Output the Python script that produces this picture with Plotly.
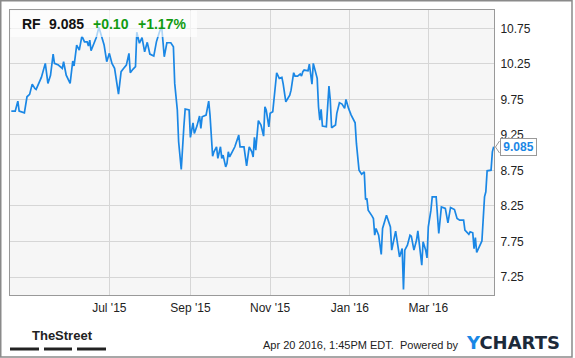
import plotly.graph_objects as go

ticker = "RF"
last_price = "9.085"
change = "+0.10"
change_pct = "+1.17%"
footer_text = "Apr 20 2016, 1:45PM EDT.  Powered by"

dates = [
    "2015-04-17", "2015-04-20", "2015-04-22", "2015-04-23", "2015-04-27", "2015-04-29",
    "2015-05-01", "2015-05-03", "2015-05-05", "2015-05-06", "2015-05-10", "2015-05-13",
    "2015-05-15", "2015-05-17", "2015-05-19", "2015-05-20", "2015-05-23", "2015-05-26",
    "2015-05-27", "2015-05-29", "2015-06-01", "2015-06-03", "2015-06-04", "2015-06-06",
    "2015-06-08", "2015-06-10", "2015-06-12", "2015-06-14", "2015-06-15", "2015-06-16",
    "2015-06-17", "2015-06-19", "2015-06-21", "2015-06-23", "2015-06-25", "2015-06-27",
    "2015-06-29", "2015-07-01", "2015-07-03", "2015-07-05", "2015-07-08", "2015-07-10",
    "2015-07-12", "2015-07-14", "2015-07-16", "2015-07-17", "2015-07-19", "2015-07-21",
    "2015-07-22", "2015-07-24", "2015-07-26", "2015-07-28", "2015-07-30", "2015-08-01",
    "2015-08-04", "2015-08-06", "2015-08-08", "2015-08-10", "2015-08-12", "2015-08-14",
    "2015-08-17", "2015-08-19", "2015-08-20", "2015-08-22", "2015-08-23", "2015-08-25",
    "2015-08-27", "2015-08-28", "2015-08-31", "2015-09-01", "2015-09-03", "2015-09-04",
    "2015-09-06", "2015-09-08", "2015-09-09", "2015-09-10", "2015-09-13", "2015-09-15",
    "2015-09-16", "2015-09-18", "2015-09-19", "2015-09-21", "2015-09-22", "2015-09-24",
    "2015-09-25", "2015-09-26", "2015-09-28", "2015-09-29", "2015-09-30", "2015-10-01",
    "2015-10-03", "2015-10-05", "2015-10-08", "2015-10-09", "2015-10-12", "2015-10-14",
    "2015-10-16", "2015-10-18", "2015-10-19", "2015-10-20", "2015-10-21", "2015-10-23",
    "2015-10-25", "2015-10-27", "2015-10-28", "2015-10-29", "2015-10-31", "2015-11-01",
    "2015-11-03", "2015-11-04", "2015-11-06", "2015-11-08", "2015-11-10", "2015-11-11",
    "2015-11-13", "2015-11-16", "2015-11-17", "2015-11-19", "2015-11-20", "2015-11-22",
    "2015-11-24", "2015-11-25", "2015-11-26", "2015-11-27", "2015-11-30", "2015-12-01",
    "2015-12-03", "2015-12-04", "2015-12-07", "2015-12-08", "2015-12-09", "2015-12-10",
    "2015-12-11", "2015-12-14", "2015-12-15", "2015-12-16", "2015-12-17", "2015-12-18",
    "2015-12-21", "2015-12-22", "2015-12-24", "2015-12-26", "2015-12-28", "2015-12-29",
    "2015-12-31", "2016-01-02", "2016-01-05", "2016-01-06", "2016-01-08", "2016-01-10",
    "2016-01-12", "2016-01-13", "2016-01-14", "2016-01-15", "2016-01-18", "2016-01-19",
    "2016-01-20", "2016-01-21", "2016-01-23", "2016-01-25", "2016-01-26", "2016-01-29",
    "2016-02-01", "2016-02-02", "2016-02-05", "2016-02-07", "2016-02-08", "2016-02-10",
    "2016-02-11", "2016-02-12", "2016-02-14", "2016-02-16", "2016-02-17", "2016-02-19",
    "2016-02-21", "2016-02-22", "2016-02-24", "2016-02-25", "2016-02-26", "2016-02-28",
    "2016-02-29", "2016-03-01", "2016-03-03", "2016-03-04", "2016-03-07", "2016-03-08",
    "2016-03-09", "2016-03-11", "2016-03-14", "2016-03-16", "2016-03-18", "2016-03-21",
    "2016-03-23", "2016-03-25", "2016-03-28", "2016-03-29", "2016-03-30", "2016-04-01",
    "2016-04-02", "2016-04-04", "2016-04-05", "2016-04-06", "2016-04-07", "2016-04-09",
    "2016-04-11", "2016-04-13", "2016-04-14", "2016-04-15", "2016-04-18", "2016-04-19",
    "2016-04-20",
]

prices = [
    9.585, 9.585, 9.726, 9.585, 9.56, 9.787,
    9.82, 9.965, 9.905, 9.89, 10.06, 10.257,
    9.975, 10.09, 10.388, 10.257, 10.233, 10.187,
    10.28, 10.09, 9.975, 10.29, 10.22, 10.515,
    10.444, 10.64, 10.56, 10.56, 10.5, 10.585,
    10.435, 10.515, 10.62, 10.764, 10.63, 10.515,
    10.28, 10.398, 10.257, 10.187, 9.825, 10.14,
    10.187, 10.233, 10.398, 10.125, 10.173, 10.21,
    10.694, 10.54, 10.62, 10.42, 10.553, 10.388,
    10.36, 10.56, 10.68, 10.782, 10.35, 10.547,
    10.547, 10.49, 9.975, 9.6, 9.153, 8.764,
    9.364, 9.614, 9.6, 9.215, 9.42, 9.27,
    9.374, 9.515, 9.342, 9.505, 9.529, 9.726,
    9.529, 8.95, 9.012, 9.083, 8.919, 9.083,
    8.919, 8.965, 8.8, 8.85, 9.012, 8.94,
    9.012, 9.083, 9.247, 9.083, 9.083, 8.815,
    9.083, 9.012, 8.94, 9.215, 9.036, 9.45,
    9.39, 9.233, 9.646, 9.6, 9.364, 9.553,
    9.575, 9.74, 10.125, 10.046, 10.06, 9.965,
    9.716, 9.81, 9.88, 10.125, 10.078, 10.078,
    10.106, 10.078, 10.14, 10.163, 10.153, 10.247,
    9.965, 10.257, 10.046, 9.646, 9.458, 9.609,
    9.374, 9.364, 9.74, 9.937, 9.74, 9.35,
    9.39, 9.553, 9.702, 9.684, 9.623, 9.75,
    9.623, 9.529, 9.42, 9.13, 8.754, 8.698,
    8.73, 8.34, 8.356, 8.191, 8.107, 8.074,
    7.839, 7.933, 7.839, 7.567, 7.933, 8.12,
    7.956, 7.628, 7.895, 7.674, 7.533, 7.651,
    7.074, 7.628, 7.698, 7.839, 7.825, 7.628,
    7.77, 7.9, 7.58, 7.416, 7.745, 7.628,
    7.519, 7.956, 8.191, 8.378, 8.378, 8.097,
    7.863, 8.237, 8.215, 8.012, 8.229, 8.2,
    8.074, 8.05, 8.05, 7.91, 7.886, 7.85,
    7.886, 7.872, 7.65, 7.806, 7.595, 7.674,
    7.758, 8.378, 8.449, 8.745, 8.754, 9.012,
    9.085,
]

y_ticks = [7.25, 7.75, 8.25, 8.75, 9.25, 9.75, 10.25, 10.75]
x_tick_dates = ["2015-07-01", "2015-09-01", "2015-11-01", "2016-01-01", "2016-03-01"]
x_tick_labels = ["Jul '15", "Sep '15", "Nov '15", "Jan '16", "Mar '16"]

W, H = 575, 358
L, R, T, B = 10, 494, 10, 295
PW, PH = R - L, B - T


def px(x):
    return (x - L) / PW


def py(y):
    return (B - y) / PH


FONT = "Liberation Sans, Arial, sans-serif"
BLUE = "#1a87e5"
GREEN = "#119b11"

fig = go.Figure()
fig.add_trace(go.Scatter(
    x=dates, y=prices, mode="lines",
    line=dict(color=BLUE, width=1.7),
    hoverinfo="skip", showlegend=False,
))

shapes = [
    # outer frame
    dict(type="rect", xref="paper", yref="paper",
         x0=px(0.75), x1=px(572), y0=py(357), y1=py(0.75),
         line=dict(color="#8a8a8a", width=1.5), fillcolor="rgba(0,0,0,0)", layer="above"),
    # title backdrop
    dict(type="rect", xref="paper", yref="paper",
         x0=px(10.5), x1=px(197), y0=py(37), y1=py(10.5),
         line=dict(width=0), fillcolor="rgba(255,255,255,0.65)", layer="above"),
    # pointer for last value
    dict(type="path", xref="paper", yref="paper",
         path=f"M {px(499.5)},{py(141)} L {px(495.5)},{py(147)} L {px(499.5)},{py(153)}",
         line=dict(color="#999999", width=1), fillcolor="white", layer="above"),
]

# TheStreet bars
for x0, x1 in [(10, 39), (44, 72), (77, 106)]:
    shapes.append(dict(type="rect", xref="paper", yref="paper",
                       x0=px(x0), x1=px(x1), y0=py(350.5), y1=py(347.5),
                       line=dict(width=0), fillcolor="#222222", layer="above"))

annotations = []


def title_part(text, xleft, color):
    annotations.append(dict(
        text=f"<b>{text}</b>", xref="paper", yref="paper",
        x=px(xleft - 1), y=py(23.5), xanchor="left", yanchor="middle",
        showarrow=False, font=dict(family=FONT, size=14, color=color),
        borderpad=0))


title_part(ticker, 21.5, "#111111")
title_part(last_price, 49, "#111111")
title_part(change, 93, GREEN)
title_part(change_pct, 138, GREEN)

annotations.append(dict(
    text=f"<b>{last_price}</b>", xref="paper", yref="paper",
    x=px(499.5), y=py(146.7), xanchor="left", yanchor="middle",
    showarrow=False, font=dict(family=FONT, size=12, color=BLUE),
    bgcolor="white", bordercolor="#999999", borderwidth=1, borderpad=0,
    width=35, height=16, align="center"))

annotations.append(dict(
    text="<b>TheStreet</b>", xref="paper", yref="paper",
    x=px(62.5), y=py(335.5), xanchor="center", yanchor="middle",
    showarrow=False, font=dict(family=FONT, size=13, color="#222222")))

annotations.append(dict(
    text=footer_text, xref="paper", yref="paper",
    x=px(461), y=py(344.5), xanchor="right", yanchor="middle",
    showarrow=False, font=dict(family=FONT, size=11, color="#222222")))

annotations.append(dict(
    text="<b><span style='color:#1a87e5'>Y</span>CHARTS</b>", xref="paper", yref="paper",
    x=px(463.5), y=py(342), xanchor="left", yanchor="middle",
    showarrow=False, font=dict(family="DejaVu Sans, sans-serif", size=18, color="#1c2a3a")))

fig.update_layout(
    width=W, height=H,
    margin=dict(l=L, r=W - R, t=T, b=H - B, pad=0),
    paper_bgcolor="white", plot_bgcolor="#f6f6f6",
    font=dict(family=FONT, size=12, color="#222222"),
    shapes=shapes, annotations=annotations,
    hovermode=False, showlegend=False,
)

fig.update_xaxes(
    type="date", range=["2015-04-16", "2016-04-20 06:00"],
    tickvals=x_tick_dates, ticktext=x_tick_labels,
    showgrid=True, gridcolor="#d6d6d6", gridwidth=1,
    showline=True, linecolor="#999999", linewidth=1, mirror=True,
    ticks="outside", ticklen=2, tickcolor="rgba(0,0,0,0)",
    tickfont=dict(family=FONT, size=12, color="#222222"),
    zeroline=False, fixedrange=True,
)
fig.update_yaxes(
    side="right", range=[6.997, 11.008],
    tickvals=y_ticks, ticktext=[f"{v:.2f}" for v in y_ticks],
    showgrid=True, gridcolor="#d6d6d6", gridwidth=1,
    showline=True, linecolor="#999999", linewidth=1, mirror=True,
    ticks="outside", ticklen=3, tickcolor="rgba(0,0,0,0)",
    tickfont=dict(family=FONT, size=12, color="#222222"),
    zeroline=False, fixedrange=True,
)

fig.write_html("out.html", config={"displayModeBar": False})
